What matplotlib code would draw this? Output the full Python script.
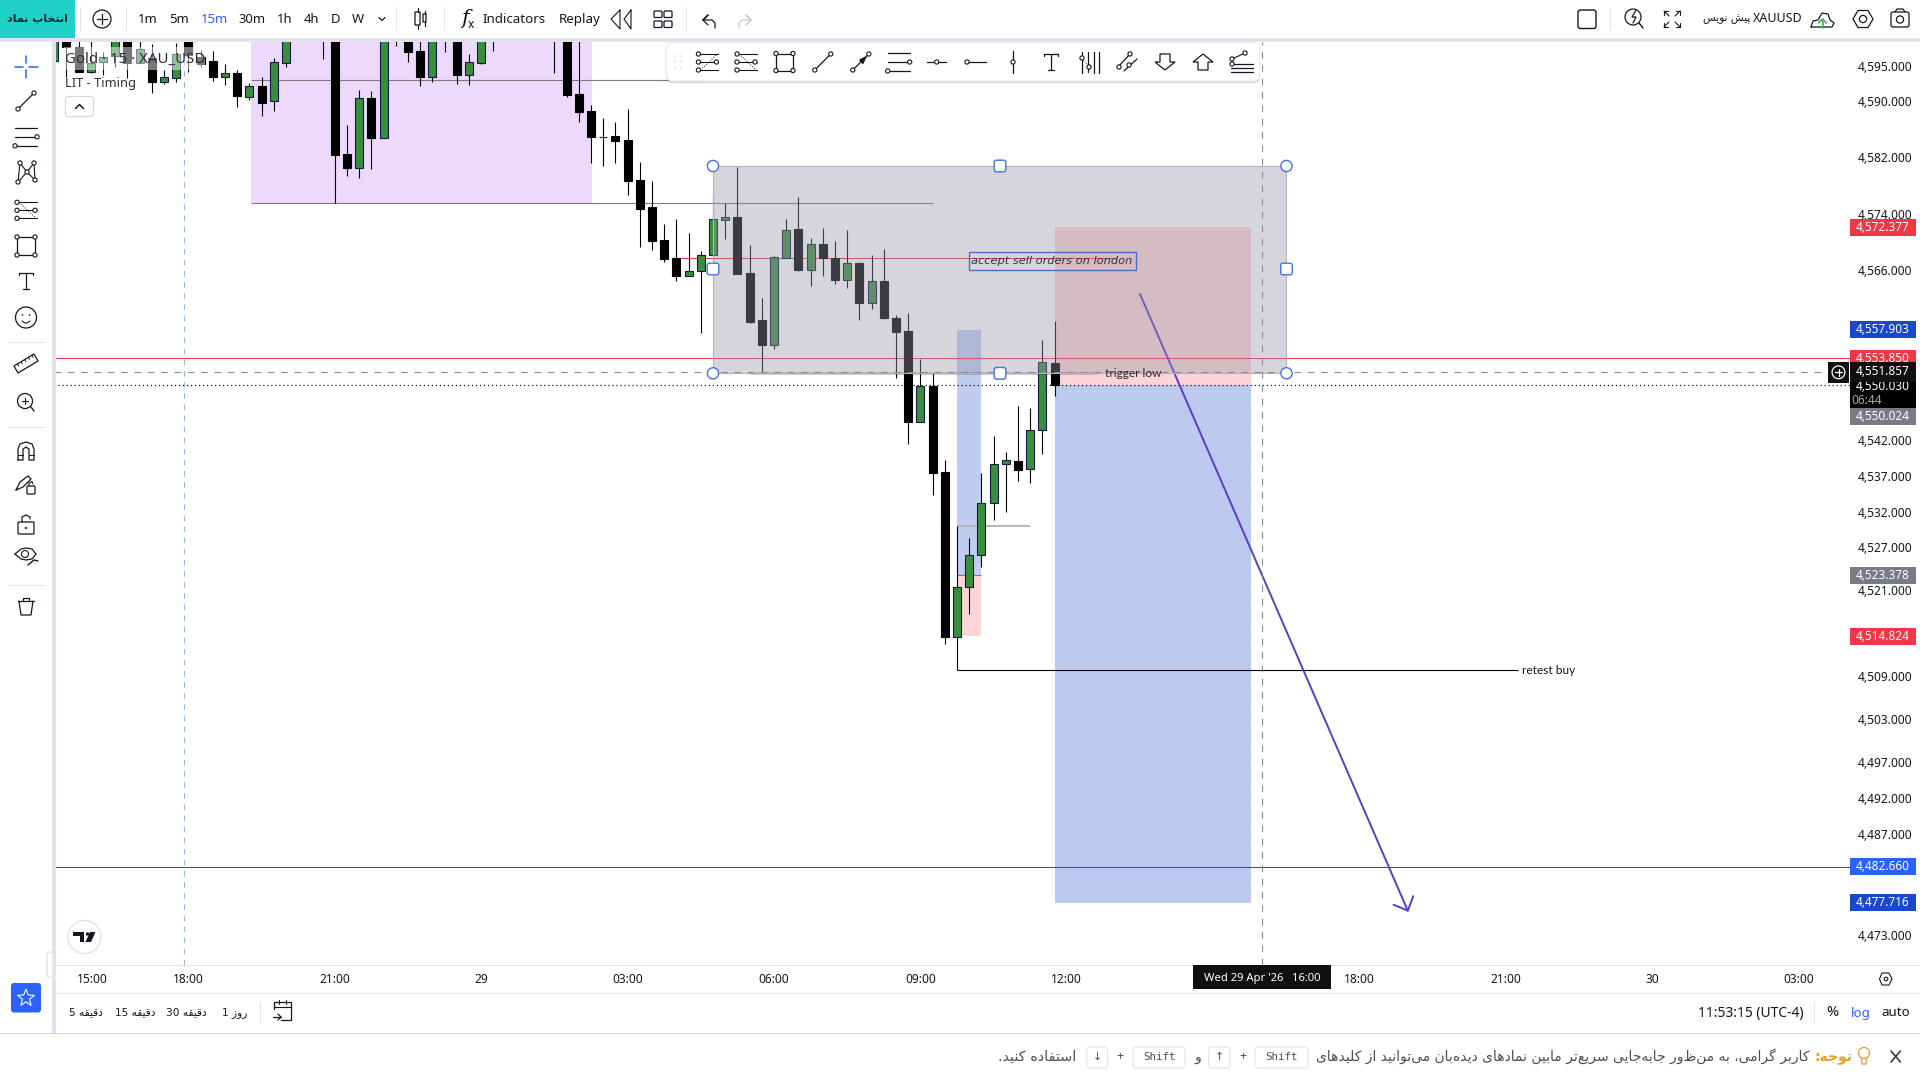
import re
import matplotlib
matplotlib.use("Agg")
import matplotlib.pyplot as plt
from matplotlib.patches import Rectangle, Circle, FancyBboxPatch, Polygon
from matplotlib.transforms import ScaledTranslation

# ---------- DATA ----------
first_bar = -71   # bar index 0 is the 09:00 candle of the 29th, 15 minute bars
opens = [4596.02,4600,4598.01,4594.46,4595.88,4596.69,4599.5,4595.65,4596.37,4593.04,4593.6,4599.5,4596.51,4595.98,
         4593.74,4594.23,4590.9,4592.42,4590.33,4595.74,4603,4601,4600,4600,4582.76,4580.82,4590.68,4585.08,4601,
         4599.5,4597.41,4593.74,4601,4599.5,4594.03,4595.74,4600,4602,4601,4604,4603,4601,4599.5,4591.28,4588.86,
         4585.22,4585.32,4584.74,4579.07,4575.24,4570.57,4568.02,4565.51,4566.14,4568.4,4573.44,4573.82,4565.9,
         4559.25,4555.77,4568.06,4572.13,4566.37,4570.0,4568.02,4564.95,4567.31,4561.7,4564.76,4559.53,4557.7,
         4544.92,4549.94,4537.84,4514.75,4521.66,4526.14,4533.45,4538.92,4539.34,4538.2,4543.7,4553.14]
highs = [4601,4601,4600,4599,4597.3,4600,4600,4599,4598.41,4594.7,4598.5,4600,4597.55,4597.45,
         4595.55,4594.7,4592.81,4593.74,4596.37,4600,4604,4604,4602,4601,4586.88,4591.86,4591.72,4600,4602,
         4600,4599.5,4600,4602,4600,4596.98,4600,4602,4604,4605,4606,4604,4602,4600,4599.5,4589.72,
         4587.88,4587.34,4589.11,4581.58,4578.93,4572.83,4573.54,4571.51,4569.02,4577.04,4575.85,4580.96,4569.86,
         4562.37,4568.3,4573.54,4576.71,4570.85,4572.27,4570.43,4571.99,4567.4,4568.44,4569.3,4559.96,4560.24,
         4553.75,4551.73,4539.52,4521.66,4528.57,4537.66,4542.9,4540.65,4547.12,4546.85,4556.43,4559.11]
lows = [4596.02,4593.66,4594.4,4594.23,4593.99,4595.09,4593.52,4595.65,4591.47,4592.7,4593.04,4594.46,4595.17,4593.18,
        4592.56,4589.48,4590.44,4588.16,4588.86,4595.17,4600,4600,4596.27,4575.76,4579.68,4579.4,4580.68,4585.08,4598.11,
        4595.88,4592.46,4593.04,4597.3,4592.7,4592.56,4595.55,4597.45,4600,4600,4602,4600,4594.23,4590.9,4587.34,4581.52,
        4581.1,4581.48,4576.95,4569.62,4569.16,4567.45,4564.81,4565.51,4557.46,4568.4,4570.71,4565.76,4558.87,
        4551.82,4555.2,4568.06,4566.23,4564.06,4565.47,4564.34,4563.78,4559.25,4560.86,4559.39,4551.07,4541.82,
        4544.92,4534.61,4513.73,4514.75,4517.92,4524.54,4531.1,4532.26,4536.61,4536.33,4540.37,4548.57]
closes = [4600.5,4597.93,4594.46,4595.74,4596.59,4599.5,4595.74,4597.65,4593.04,4593.66,4596.98,4596.83,4595.55,4593.74,
          4594.23,4591.0,4592.42,4590.05,4595.79,4599.5,4601,4603,4601,4582.62,4580.82,4590.68,4585.08,4599.5,4600,
          4597.3,4593.74,4599.5,4600,4594.03,4595.79,4599.5,4601,4601,4604,4603,4601,4600,4591.18,4588.77,4585.22,
          4585.22,4584.65,4578.93,4574.96,4570.47,4567.92,4565.51,4566.14,4568.4,4573.5,4573.78,4565.76,4559.01,
          4555.73,4568.12,4571.95,4566.37,4569.96,4568.02,4564.91,4567.31,4561.66,4564.76,4559.58,4557.56,4544.92,
          4549.94,4537.74,4514.75,4521.66,4526.14,4533.45,4538.92,4539.48,4538.17,4543.7,4553.29,4550.03]

price_ticks = [4595,4590,4582,4574,4566,4542,4537,4532,4527,4521,4509,4503,4497,4492,4487,4473]
time_tick_bars = [-67.9,-60,-48,-36,-24,-12,0,12,36,48,60,72]
time_tick_labels = ['15:00','18:00','21:00','29','03:00','06:00','09:00','12:00','18:00','21:00','30','03:00']
bold_time_labels = ['29','30']

line_red = 4553.85
line_blue = 4482.66
last_price = 4550.03
crosshair_price = 4551.857
crosshair_bar = 28.0
session_bar = -60.35
pos_top, pos_bottom = 4572.377, 4477.716
small_top, small_mid, small_bottom = 4557.903, 4523.378, 4514.824
zone_low = 4575.76
zone_mid = 4593.24
box_top, box_low = 4581.06, 4551.73
accept_level = 4567.98
grey_level = 4530.3
retest_level = 4510.09
arrow_from = (18, 4562.93)
arrow_to = (40, 4476.42)

GREEN, BLACK = '#388E3C', '#000000'
INK = '#131722'

# ---------- Persian helper: matplotlib has no text shaping ----------
F = {'ا':(0xFE8D,0xFE8E),'آ':(0xFE81,0xFE82),'د':(0xFEA9,0xFEAA),'ذ':(0xFEAB,0xFEAC),'ر':(0xFEAD,0xFEAE),
     'ز':(0xFEAF,0xFEB0),'ژ':(0xFB8A,0xFB8B),'و':(0xFEED,0xFEEE),
     'ب':(0xFE8F,0xFE90,0xFE91,0xFE92),'پ':(0xFB56,0xFB57,0xFB58,0xFB59),'ت':(0xFE95,0xFE96,0xFE97,0xFE98),
     'ج':(0xFE9D,0xFE9E,0xFE9F,0xFEA0),'چ':(0xFB7A,0xFB7B,0xFB7C,0xFB7D),'ح':(0xFEA1,0xFEA2,0xFEA3,0xFEA4),
     'خ':(0xFEA5,0xFEA6,0xFEA7,0xFEA8),'س':(0xFEB1,0xFEB2,0xFEB3,0xFEB4),'ش':(0xFEB5,0xFEB6,0xFEB7,0xFEB8),
     'ع':(0xFEC9,0xFECA,0xFECB,0xFECC),'ف':(0xFED1,0xFED2,0xFED3,0xFED4),'ق':(0xFED5,0xFED6,0xFED7,0xFED8),
     'ک':(0xFB8E,0xFB8F,0xFB90,0xFB91),'گ':(0xFB92,0xFB93,0xFB94,0xFB95),'ل':(0xFEDD,0xFEDE,0xFEDF,0xFEE0),
     'م':(0xFEE1,0xFEE2,0xFEE3,0xFEE4),'ن':(0xFEE5,0xFEE6,0xFEE7,0xFEE8),'ه':(0xFEE9,0xFEEA,0xFEEB,0xFEEC),
     'ی':(0xFBFC,0xFBFD,0xFBFE,0xFBFF)}

def fa(s):
    out = []
    for i, c in enumerate(s):
        if c == '\u200c':
            continue
        if c not in F:
            out.append(c)
            continue
        p = s[i-1] if i else ''
        n = s[i+1] if i+1 < len(s) else ''
        jp = p in F and len(F[p]) == 4
        jn = n in F and len(F[c]) == 4
        form = F[c]
        if jp and jn: cc = form[3]
        elif jp: cc = form[1]
        elif jn: cc = form[2]
        else: cc = form[0]
        out.append(chr(cc))
    runs = re.findall(r'[A-Za-z0-9]+|[^A-Za-z0-9]+', ''.join(out))
    return ''.join(r if re.match(r'[A-Za-z0-9]', r) else r[::-1] for r in runs[::-1])

plt.rcParams['font.family'] = ['Noto Sans', 'DejaVu Sans']
FA = ['DejaVu Sans']

# ---------- FIGURE & CHART AXES ----------
W, H = 1920, 1080
fig = plt.figure(figsize=(19.2, 10.8), dpi=100, facecolor='white')
L_, R_, T_, B_ = 56, 1850, 42, 965
ax = fig.add_axes([L_/W, 1-B_/H, (R_-L_)/W, (B_-T_)/H])
ax.set_yscale('log')
ax.set_xlim(-70.85, 76.2)
ax.set_ylim(4469.07, 4598.68)
for s in ax.spines.values():
    s.set_visible(False)
ax.minorticks_off()
ax.set_yticks(price_ticks)
ax.set_yticklabels([f'{p:,.3f}' for p in price_ticks], fontsize=8.6, color=INK)
ax.yaxis.tick_right()
ax.tick_params(axis='y', which='both', length=0, pad=5.5)
ax.tick_params(axis='y', which='minor', labelright=False)
lift = ScaledTranslation(0, 2/100, fig.dpi_scale_trans)
for t in ax.yaxis.get_major_ticks():
    t.label2.set_transform(t.label2.get_transform() + lift)
ax.set_xticks(time_tick_bars)
ax.set_xticklabels(time_tick_labels, fontsize=8.6, color=INK)
for t in ax.get_xticklabels():
    if t.get_text() in bold_time_labels:
        t.set_fontweight('bold')
ax.tick_params(axis='x', length=0, pad=5.8)

def box(x0, x1, p0, p1, z, **kw):
    ax.add_patch(Rectangle((x0, p0), x1-x0, p1-p0, zorder=z, lw=kw.pop('lw', 0), **kw))

# zones under the candles
box(-54.9, -26.9, zone_low, 4600, 1, fc='#EDD9FB')
box(11, 27.1, last_price, pos_top, 2, fc='#FFD4D8')
box(11, 27.1, pos_bottom, last_price, 2, fc='#BBCAEE')
box(3, 5, small_mid, small_top, 2, fc='#BFCEF0')
box(3, 5, small_bottom, small_mid, 2, fc='#FFD4D8')

# horizontal levels
ax.hlines(zone_low, -54.9, 1, color='#7D7A85', lw=0.8, zorder=2.5)
ax.hlines(zone_mid, -54.9, -18, color='#7D7A85', lw=0.8, zorder=2.5)
ax.hlines(accept_level, -19.6, 16, color='#F23645', lw=0.75, zorder=2.5)
ax.hlines(line_red, -71, 76.2, color='#F23645', lw=0.75, zorder=2.5)
ax.hlines(line_blue, -71, 76.2, color='#2450D8', lw=0.75, zorder=2.5)
ax.hlines(last_price, -71, 76.2, color='#000000', lw=0.85, linestyles=(0, (1, 2.4)), zorder=2.5)
ax.hlines(box_low, -14, 14.5, color='#000000', lw=1.0, zorder=3.6)
ax.hlines(small_mid, 3, 5, color='#7D7A85', lw=0.75, zorder=2.6)
ax.hlines(grey_level, 3, 9, color='#B8B8B8', lw=1.5, zorder=2.6)
ax.hlines(retest_level, 3, 49, color='#000000', lw=0.8, zorder=2.6)
ax.vlines(3, retest_level, grey_level, color='#000000', lw=0.8, zorder=2.6)
ax.vlines(session_bar, 4469.07, 4598.68, color='#8FBBEF', lw=0.8, linestyles=(0, (5, 5)), zorder=1.5)

# candles
bars = list(range(first_bar, first_bar+len(opens)))
up = [c >= o for o, c in zip(opens, closes)]
ax.vlines(bars, lows, highs, color='#000000', lw=0.8, zorder=3)
ax.bar(bars, [abs(c-o) for o, c in zip(opens, closes)], bottom=[min(o, c) for o, c in zip(opens, closes)],
       width=0.66, color=[GREEN if u else BLACK for u in up],
       edgecolor=['#15194A' if u else BLACK for u in up], linewidth=0.8, zorder=3.1)

# arrow sits under the grey selection
ax.annotate('', xy=arrow_to, xytext=arrow_from, zorder=3.5,
            arrowprops=dict(arrowstyle='->,head_length=0.8,head_width=0.77', mutation_scale=10,
                            color='#5B3CC4', lw=1.4, shrinkA=0, shrinkB=0))

# selected grey rectangle on top of candles
box(-17, 30, box_low, box_top, 4, fc=(150/255, 152/255, 165/255, 0.40), ec='#B2B5BE', lw=0.8)

# crosshair
ax.hlines(crosshair_price, -71, 76.2, color='#8A8D96', lw=0.8, linestyles=(0, (6, 6)), zorder=4.5)
ax.vlines(crosshair_bar, 4469.07, 4598.68, color='#8A8D96', lw=0.8, linestyles=(0, (6, 6)), zorder=4.5)

# drawing labels
ax.text(15.1, box_low, 'trigger low', fontsize=8.6, family='Lato', color='#2a2a32', va='center', ha='left', zorder=5)
ax.text(49.3, retest_level, 'retest buy', fontsize=8.6, family='Lato', color='#131722', va='center', ha='left', zorder=5)
ax.text(10.8, accept_level-0.35, 'accept sell orders on london', fontsize=8.2, family='DejaVu Sans', style='italic',
        color='#33333b', va='center', ha='center', zorder=5.2)
box(3.95, 17.65, accept_level-1.6, accept_level+0.85, 5.1, fc='none', ec='#4C6CC0', lw=1.0)

# ---------- UI OVERLAY (pixel coordinates) ----------
ui = fig.add_axes([0, 0, 1, 1], facecolor='none')
ui.set_xlim(0, W); ui.set_ylim(H, 0); ui.axis('off')
ui.set_zorder(10)

def rect(x0, y0, x1, y1, fc, ec='none', lw=0, z=2, alpha=None):
    ui.add_patch(Rectangle((x0, y0), x1-x0, y1-y0, fc=fc, ec=ec, lw=lw, zorder=z, alpha=alpha))

def rrect(x0, y0, x1, y1, r=3, fc='white', ec='#D9DBE3', lw=0.9, z=3, alpha=None):
    ui.add_patch(FancyBboxPatch((x0+r, y0+r), x1-x0-2*r, y1-y0-2*r, boxstyle=f'round,pad={r},rounding_size={r}',
                                fc=fc, ec=ec, lw=lw, zorder=z, alpha=alpha))

def ln(pts, c=INK, lw=0.9, z=7.5, ls='-'):
    ui.plot([p[0] for p in pts], [p[1] for p in pts], color=c, lw=lw, zorder=z, ls=ls, solid_capstyle='round')

def node(x, y, r=2.1, c=INK, fc='white', lw=0.8, z=7):
    ui.add_patch(Circle((x, y), r, fc=fc, ec=c, lw=lw, zorder=z))

def txt(x, y, s, size=9, c=INK, ha='center', va='center', fam=None, w='normal', z=8, **kw):
    ui.text(x, y, s, fontsize=size, color=c, ha=ha, va=va, fontweight=w, zorder=z,
            **({'family': fam} if fam else {}), **kw)

# frame strips
rect(0, 38, W, 42, '#E0E3EB')
rect(52, 42, 56, 1033, '#E0E3EB')
rect(56, 965, 1920, 966, '#E0E3EB')
rect(56, 993, 1920, 994, '#E0E3EB')
rect(0, 1032.5, W, 1034, '#CDD1F6')
rrect(47, 952, 53, 977, r=2, ec='#E0E3EB')

# selection handles
for hx, hy in [(713, 166), (1286.5, 166), (713, 373.3), (1286.5, 373.3)]:
    node(hx, hy, r=5.6, c='#3F74E6', fc='white', lw=1.0, z=5)
for hx, hy in [(1000, 166), (713, 269), (1286.5, 269), (1000, 373.3)]:
    rrect(hx-5.8, hy-5.8, hx+5.8, hy+5.8, r=2.2, fc='white', ec='#3F74E6', lw=1.0, z=5)

# legend veil over the candles
rect(64, 47, 205, 70, 'white', alpha=0.47, z=2)
txt(65, 59, 'Gold · 15 · XAU_USD', size=10.8, c='#2a2e39', ha='left')
txt(65, 83, 'LIT - Timing', size=9.2, c='#2a2e39', ha='left')
rrect(65.5, 96.5, 93.5, 116.5, r=3, ec='#D5D8E0')
ln([(75.5, 108.5), (79.5, 104.5), (83.5, 108.5)], lw=1.1)

# TV logo
node(84.5, 937, r=16.5, c='#E0E3EB', lw=1, z=5)
ui.add_patch(Polygon([(73, 932), (84, 932), (84, 942), (79.5, 942), (79.5, 936), (73, 936)], fc=INK, ec='none', zorder=6))
ui.add_patch(Polygon([(85.5, 942), (90, 932), (95.5, 932), (91, 942)], fc=INK, ec='none', zorder=6))
node(87.5, 934, r=1.7, c=INK, fc=INK, lw=0, z=6)

# price tags
def py(p):
    return H - ax.transData.transform((0, p))[1]

def tag(center, s, color, z=4):
    rect(1850, center-8.5, 1916, center+8.5, color, z=z)
    txt(1883, center, s, size=8.5, c='white', z=z+.2, w='bold')

tag(py(pos_top), '4,572.377', '#F23645')
tag(py(small_top), '4,557.903', '#1848CC')
tag(py(line_red), '4,553.850', '#F23645')
rect(1850, 380, 1916, 407.5, '#000000', z=4.5)
txt(1883, 386, f'{last_price:,.3f}', size=8.5, c='white', z=4.6, w='bold')
txt(1867, 400, '06:44', size=8.6, c='#A8A8A8', z=4.6, ha='center', w='bold')
rect(1850, 362, 1916, 382, '#101010', z=4.8)
txt(1883, py(crosshair_price)-0.5, f'{crosshair_price:,.3f}', size=8.5, c='white', z=4.9, w='bold')
tag(416, '4,550.024', '#787B86')
tag(py(small_mid), '4,523.378', '#787B86')
tag(py(small_bottom), '4,514.824', '#F23645')
tag(py(line_blue), '4,482.660', '#2962FF')
tag(py(pos_bottom), '4,477.716', '#1848CC')

# plus button by the crosshair
rect(1828, 362, 1849, 382.5, '#101010', z=5)
node(1838.5, 372.3, r=6.4, c='white', fc='#101010', lw=0.9, z=6)
ln([(1835.3, 372.3), (1841.7, 372.3)], c='white', lw=0.9)
ln([(1838.5, 369.1), (1838.5, 375.5)], c='white', lw=0.9)

# date tag
rect(1193.3, 965, 1331, 988.7, '#101010', z=4)
txt(1262, 978.5, "Wed 29 Apr '26   16:00", size=8.1, c='white', z=5, w='bold')

# ---------- TOP BAR ----------
rect(0, 0, 75, 38, '#1FD1C8', z=3)
txt(37, 18.5, fa('انتخاب نماد'), size=8, fam=FA, c='#102030', w='bold')
for sx in [80, 126, 396, 444, 686]:
    rect(sx, 7, sx+1, 31, '#E0E3EB')
node(102, 19, r=9, lw=0.9)
ln([(97, 19), (107, 19)]); ln([(102, 14), (102, 24)])
for x, s, c in [(148, '1m', INK), (179, '5m', INK), (214, '15m', '#2962FF'), (252, '30m', INK), (285, '1h', INK),
                (312, '4h', INK), (335.6, 'D', INK), (358, 'W', INK)]:
    txt(x, 19.5, s, size=9.4, c=c)
ln([(379, 17.5), (382, 20.5), (385, 17.5)])
# candle icon
rrect(415, 12, 420, 25, r=.5, fc='white', ec=INK, z=6); ln([(417.5, 8), (417.5, 12)]); ln([(417.5, 25), (417.5, 29)])
rrect(423, 14, 426, 22, r=.5, fc='white', ec=INK, z=6); ln([(424.5, 11), (424.5, 14)]); ln([(424.5, 22), (424.5, 26)])
txt(465, 19, 'f', size=15, style='italic', fam='DejaVu Serif')
txt(471, 24, 'x', size=8.5)
txt(514, 19.5, 'Indicators', size=9.6)
txt(580, 19.5, 'Replay', size=9.6)
ln([(620, 10), (611, 19), (620, 29), (620, 10)], lw=.8)
ln([(631, 10), (624, 19), (631, 29), (631, 10)], lw=.8)
for gx, gy in [(657, 11), (667, 11), (657, 21), (667, 21)]:
    rrect(gx-3, gy, gx+5, gy+6.5, r=1, fc='white', ec=INK, lw=.9, z=6)
ln([(703, 20), (708, 15), (703, 20), (708, 25)]); ln([(703.5, 20), (712, 20), (715, 23), (715, 28)])
ln([(751, 20), (746, 15), (751, 20), (746, 25)], c='#C5C8D0'); ln([(750.5, 20), (742, 20), (739, 23), (739, 28)], c='#C5C8D0')

# top right
rrect(1578, 10, 1596, 28.5, r=2.5, fc='white', ec=INK, lw=1)
rect(1610, 8, 1611, 30, '#E0E3EB')
node(1633, 17, r=8, lw=.9); ln([(1639, 23), (1643, 28)], lw=1)
ln([(1636, 10), (1632, 17), (1636, 17), (1633, 23)], lw=.9)
for sx, sy in [(-1, -1), (1, -1), (-1, 1), (1, 1)]:
    a = (1672+sx*8, 19+sy*8); b = (1672+sx*3, 19+sy*3)
    ln([a, b], lw=.8); ln([a, (a[0]-sx*4, a[1])], lw=.8); ln([a, (a[0], a[1]-sy*4)], lw=.8)
txt(1803, 18.5, 'XAUUSD', size=9, ha='right')
txt(1750, 19, fa('پیش نویس'), size=7.6, fam=FA, ha='right')
ln([(1811, 27), (1813, 21), (1818, 20), (1822, 13), (1828, 14), (1830, 20), (1834, 23), (1832, 27), (1811, 27)], lw=.9)
ln([(1822.5, 28), (1822.5, 20)], c='#4CAF50', lw=1.2); ln([(1818.5, 23), (1822.5, 19), (1826.5, 23)], c='#4CAF50', lw=1.2)
ui.add_patch(Polygon([(1853, 19), (1858, 10.5), (1868, 10.5), (1873, 19), (1868, 27.5), (1858, 27.5)], fc='white', ec=INK, lw=.9, zorder=6))
node(1863, 19, r=3.6, lw=.9)
rrect(1891, 12, 1909, 27, r=2, fc='white', ec=INK, lw=.9, z=6); node(1900, 19.5, r=3.6, lw=.9)
ln([(1895, 12), (1897, 9), (1903, 9), (1905, 12)], lw=.9)

# ---------- FLOATING TOOLBAR ----------
rrect(666, 44, 1260, 83.5, r=7, fc='#000000', ec='none', z=8, alpha=0.13)
rrect(666, 43, 1260, 81, r=7, fc='white', ec='#E6E8EE', lw=.7, z=8.2)
Z = 9

def iln(pts, **k):
    ln(pts, z=Z, **k)

def inode(x, y, r=2.1):
    node(x, y, r=r, z=Z+.2)

def icon_fib(cx, cy, flip=False):
    for dy in (-8, 0, 8):
        iln([(cx-8, cy+dy), (cx+11, cy+dy)], lw=.8)
    s = -1 if flip else 1
    iln([(cx-7, cy+s*8), (cx+10, cy-s*8)], lw=.7, ls=':')
    inode(cx-9, cy-8 if flip else cy+8); inode(cx-9, cy); inode(cx+9, cy)
    inode(cx-9, cy+8 if flip else cy-8)

def icon_rect(cx, cy, r=8.5):
    iln([(cx-r, cy-r), (cx+r, cy-r), (cx+r, cy+r), (cx-r, cy+r), (cx-r, cy-r)], lw=.9)
    for a, b in [(-r, -r), (r, -r), (-r, r), (r, r)]:
        inode(cx+a, cy+b)

def icon_line(cx, cy):
    iln([(cx-8, cy+8), (cx+8, cy-8)], lw=.9); inode(cx-8, cy+8); inode(cx+8, cy-8)

def icon_arrow(cx, cy):
    icon_line(cx, cy)
    ui.add_patch(Polygon([(cx+5, cy-5), (cx-1, cy-2), (cx+2, cy+1.5)], fc=INK, ec=INK, zorder=Z+.1))

def icon_par(cx, cy):
    for dy in (-9, 0, 9):
        iln([(cx-11, cy+dy), (cx+11, cy+dy)], lw=.9)
    inode(cx+11, cy); inode(cx-11, cy+9)

def icon_t(cx, cy):
    iln([(cx-7, cy-8), (cx+7, cy-8)], lw=.9); iln([(cx-7, cy-8), (cx-7, cy-6)], lw=.9); iln([(cx+7, cy-8), (cx+7, cy-6)], lw=.9)
    iln([(cx, cy-8), (cx, cy+8)], lw=.9); iln([(cx-3, cy+8), (cx+3, cy+8)], lw=.9)

tb_y = 62
icon_fib(707.4, tb_y); icon_fib(746, tb_y, flip=True); icon_rect(784.5, tb_y); icon_line(822.8, tb_y); icon_arrow(860.8, tb_y)
icon_par(898.7, tb_y)
iln([(927, tb_y), (946, tb_y)], lw=.9); inode(936.7, tb_y)
iln([(968, tb_y), (986, tb_y)], lw=.9); inode(967, tb_y)
iln([(1013, tb_y-11), (1013, tb_y+11)], lw=.9); inode(1013, tb_y)
icon_t(1051.3, tb_y)
for vx in (1082, 1094, 1099):
    iln([(vx, tb_y-10), (vx, tb_y+11)], lw=.9)
iln([(1088, tb_y-10), (1088, tb_y+10)], lw=.9)
iln([(1082, tb_y-4), (1089, tb_y+5)], lw=.6, ls=':'); inode(1082, tb_y-4); inode(1089, tb_y+5)
iln([(1118, tb_y+5), (1131, tb_y-9)], lw=.9); iln([(1124, tb_y+9), (1137, tb_y-3)], lw=.9)
inode(1119, tb_y+5); inode(1130, tb_y-8); inode(1129, tb_y+3)
ui.add_patch(Polygon([(1160, tb_y-8), (1170, tb_y-8), (1170, tb_y), (1175, tb_y), (1165, tb_y+8), (1155, tb_y), (1160, tb_y)],
                     fc='white', ec=INK, lw=.9, zorder=Z))
ui.add_patch(Polygon([(1198, tb_y+8), (1208, tb_y+8), (1208, tb_y), (1213, tb_y), (1203, tb_y-8), (1193, tb_y), (1198, tb_y)],
                     fc='white', ec=INK, lw=.9, zorder=Z))
for dy in (2, 6, 10):
    iln([(1231, tb_y+dy), (1253, tb_y+dy)], lw=.9)
iln([(1232, tb_y-3), (1245, tb_y-9)], lw=.8); inode(1232, tb_y-3); inode(1245, tb_y-9); inode(1232, tb_y+2)
for gy in (-6, 0, 6):
    for gx in (-3, 3):
        node(678+gx, tb_y+gy, r=.8, c='#D0D3DB', fc='#D0D3DB', lw=0, z=Z)

# ---------- LEFT SIDEBAR ----------
Z = 6
sx = 26
iln_b = '#2962FF'
ln([(sx-11, 66.8), (sx-3, 66.8)], c=iln_b, lw=1.1); ln([(sx+3, 66.8), (sx+12, 66.8)], c=iln_b, lw=1.1)
ln([(sx, 56), (sx, 63)], c=iln_b, lw=1.1); ln([(sx, 70), (sx, 78)], c=iln_b, lw=1.1)
icon_line(sx, 101)
icon_par(sx, 136.8)
pts = [(sx-8, 182), (sx-6, 163), (sx+1, 172), (sx+8, 163), (sx+9, 180), (sx+1, 172), (sx-8, 182)]
iln(pts, lw=.8); [inode(*p) for p in pts[:5]]
icon_fib(sx, 210.3, flip=True)
icon_rect(sx, 246, r=9)
icon_t(sx, 281)
node(sx, 317.5, r=10.5, lw=.9); ui.add_patch(Circle((sx-3.5, 315), .8, fc=INK, zorder=8)); ui.add_patch(Circle((sx+3.5, 315), .8, fc=INK, zorder=8))
ln([(sx-4, 321), (sx-1, 323), (sx+1, 323), (sx+4, 321)], lw=.8)
for y_ in (342, 427, 584.6):
    rect(8, y_, 44, y_+1, '#E0E3EB')
ui.add_patch(Polygon([(sx-12, 366), (sx+8, 354), (sx+12, 361), (sx-8, 373)], fc='white', ec=INK, lw=.9, zorder=6))
for k in range(1, 6):
    x0 = sx-12+k*3.6; y0 = 366-k*2.2
    ln([(x0, y0), (x0+1.1, y0+2.2)], lw=.7)
node(sx-1, 401, r=7.5, lw=.9); ln([(sx+5, 407), (sx+8, 411)], lw=1); ln([(sx-4, 401), (sx+2, 401)], lw=.8); ln([(sx-1, 398), (sx-1, 404)], lw=.8)
ln([(sx-8, 460), (sx-8, 449), (sx-6, 444), (sx, 442), (sx+6, 444), (sx+8, 449), (sx+8, 460), (sx+3, 460), (sx+3, 449), (sx, 447), (sx-3, 449), (sx-3, 460), (sx-8, 460)], lw=.9)
ln([(sx-8, 455), (sx-3, 455)], lw=.8); ln([(sx+3, 455), (sx+8, 455)], lw=.8)
ln([(sx-10, 490), (sx-6, 482), (sx+2, 476), (sx+5, 479), (sx-3, 487), (sx-10, 490)], lw=.9)
rrect(sx+1, 486, sx+9, 494, r=1, fc='white', ec=INK, z=6); ln([(sx+3, 486), (sx+3, 483), (sx+6, 481.5), (sx+7, 484)], lw=.8)
rrect(sx-8, 522, sx+8, 534, r=1, fc='white', ec=INK, z=6); ln([(sx-4, 522), (sx-4, 517), (sx, 515), (sx+4, 517), (sx+4, 519)], lw=.9)
ui.add_patch(Circle((sx, 528), 1.1, fc=INK, zorder=7))
ln([(sx-11, 554), (sx-5, 549), (sx, 548), (sx+6, 549), (sx+10, 554), (sx+6, 559), (sx, 560), (sx-5, 559), (sx-11, 554)], lw=.9)
node(sx-1, 554, r=3.5, lw=.8); ln([(sx+2, 565), (sx+8, 560), (sx+12, 561)], lw=1)
ln([(sx-8, 601), (sx+8, 601)], lw=.9); ln([(sx-3, 601), (sx-3, 598), (sx+3, 598), (sx+3, 601)], lw=.9)
ln([(sx-7, 601), (sx-5, 615), (sx+5, 615), (sx+7, 601)], lw=.9)

# star button and calendar
rrect(11, 983, 41, 1012.5, r=3, fc='#2962FF', ec='none', z=4)
ui.add_patch(Polygon([(26, 989), (28.2, 995), (34.5, 995.3), (29.5, 999.2), (31.2, 1005.5), (26, 1001.8), (20.8, 1005.5),
                      (22.5, 999.2), (17.5, 995.3), (23.8, 995)], fc='none', ec='white', lw=.8, zorder=5))
txt(86, 1012.5, fa('دقیقه 5'), size=7.6, fam=FA)
txt(135, 1012.5, fa('دقیقه 15'), size=7.6, fam=FA)
txt(186, 1012.5, fa('دقیقه 30'), size=7.6, fam=FA)
txt(234.5, 1012.5, fa('روز 1'), size=7.6, fam=FA)
rect(260, 1002, 261, 1024, '#E0E3EB')
ln([(274, 1009), (274, 1002), (291, 1002), (291, 1020), (281, 1020)], lw=.9); ln([(274, 1007), (291, 1007)], lw=.8)
ln([(279, 1000), (279, 1004)], lw=.8); ln([(286, 1000), (286, 1004)], lw=.8)
ln([(273, 1017), (281, 1017)], lw=.9); ln([(278, 1014), (281, 1017), (278, 1020)], lw=.9)

# bottom right
ui.add_patch(Polygon([(1879.5, 979), (1882, 973), (1889, 973), (1892, 979), (1889, 985), (1882, 985)], fc='white', ec=INK, lw=.8, zorder=6))
node(1886, 979, r=1.8, lw=.8)
txt(1804, 1013, '11:53:15 (UTC-4)', size=10, ha='right')
rect(1814, 1002, 1815, 1024, '#E0E3EB')
txt(1832, 1013, '%', size=10.5)
txt(1861, 1013, 'log', size=9.6, c='#2962FF')
txt(1896, 1013, 'auto', size=9.6)

# ---------- FOOTER NOTE ----------
NOTE = '#4A4E5A'
FY = 1056.5
ln([(1891, 1051), (1900.5, 1062)], c='#2a2e39', lw=1.1); ln([(1900.5, 1051), (1891, 1062)], c='#2a2e39', lw=1.1)
node(1864, 1053, r=5.5, c='#E0A030', lw=.9)
ln([(1861.5, 1059), (1862, 1064), (1866, 1064), (1866.5, 1059)], c='#E0A030', lw=.9)
txt(1853, FY, fa('توجه:'), size=10, c='#E5A01E', ha='right', fam=FA, w='bold')
txt(1810, FY, fa('کاربر گرامی، به منظور جابه\u200cجایی سریع\u200cتر مابین نمادهای دیده\u200cبان می\u200cتوانید از کلیدهای'),
    size=10, c=NOTE, ha='right', fam=FA)
for x0, x1, s, fam in [(1255, 1308, 'Shift', 'DejaVu Sans Mono'), (1208.6, 1230, '↑', 'DejaVu Sans'),
                       (1133, 1185, 'Shift', 'DejaVu Sans Mono'), (1086.8, 1107.6, '↓', 'DejaVu Sans')]:
    rrect(x0, 1047, x1, 1068, r=3, ec='#E3E5EC', lw=.9)
    txt((x0+x1)/2, FY, s, size=7.8, c=NOTE, fam=fam)
txt(1243, FY, '+', size=9, c=NOTE)
txt(1120, FY, '+', size=9, c=NOTE)
txt(1197.6, FY, fa('و'), size=10, c=NOTE, fam=FA)
txt(1076, FY, fa('استفاده کنید.'), size=10.4, c=NOTE, ha='right', fam=FA)

fig.savefig('out.png', dpi=100)
